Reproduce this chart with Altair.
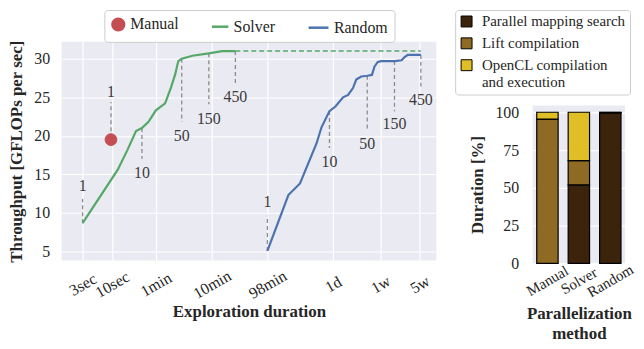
import altair as alt
import pandas as pd

FONT = "Liberation Serif"
TXT = "#262626"

# ---------------- left panel data ----------------
series_names = ["Manual", "Solver", "Random"]
series_colors = ["#C44E52", "#55A868", "#4C72B0"]
series_shapes = ["circle", "stroke", "stroke"]
series_sizes = [140, 400, 400]

solver_t = [3, 12.7, 19.0, 26.8, 34.2, 44.8, 60.5, 88.5, 111.6, 133, 152, 175, 270, 532, 916, 1581]
solver_v = [8.65, 15.6, 18.2, 20.6, 21.0, 21.8, 23.3, 24.2, 26.2, 27.9, 29.7, 30.0, 30.4, 30.7, 31.0, 31.0]

solver_ext_t = [1581, 3190000]
solver_ext_v = [31.0, 31.0]

random_t = [5880, 13900, 22400, 44100, 54100, 75000, 95800, 131000, 161000, 197000, 225000,
            276000, 353000, 428000, 477000, 546000, 625000, 1080000, 1450000, 1620000, 1860000, 3190000]
random_v = [5.04, 12.3, 13.8, 19.0, 21.1, 23.2, 23.8, 25.0, 25.3, 26.2, 27.3,
            27.7, 27.8, 27.9, 29.0, 29.6, 29.7, 29.7, 29.8, 30.2, 30.5, 30.5]

manual_t = [9.6]
manual_v = [19.5]

ann_t = [3, 34.2, 175, 532, 1581, 9.6, 5880, 75000, 353000, 1080000, 3190000]
ann_from = [8.65, 21.0, 30.0, 30.7, 31.0, 20.6, 5.04, 23.2, 27.8, 29.7, 30.5]
ann_to = [11.8, 17.0, 21.8, 24.1, 26.8, 24.4, 9.6, 18.4, 20.6, 23.2, 26.4]
ann_label_v = [13.5, 15.2, 19.9, 22.2, 25.0, 25.7, 11.35, 16.6, 18.9, 21.5, 24.6]
ann_text = ["1", "10", "50", "150", "450", "1", "1", "10", "50", "150", "450"]

tick_vals = [3, 10, 60, 600, 5880, 86400, 604800, 3024000]
tick_labels = ["3sec", "10sec", "1min", "10min", "98min", "1d", "1w", "5w"]
y_ticks = [5, 10, 15, 20, 25, 30]

# ---------------- right panel data ----------------
methods = ["Manual", "Solver", "Random"]
components = ["Parallel mapping search", "Lift compilation", "OpenCL compilation and execution"]
comp_colors = ["#3B240B", "#8F6A23", "#DFBF25"]
share_parallel = [0, 52, 99.6]
share_lift = [95.5, 16, 0.2]
share_opencl = [4.5, 32, 0.2]

# ---------------- tables ----------------
line_df = pd.DataFrame({
    "t": solver_t + random_t,
    "v": solver_v + random_v,
    "series": ["Solver"] * len(solver_t) + ["Random"] * len(random_t),
})
ext_df = pd.DataFrame({"t": solver_ext_t, "v": solver_ext_v})
legend_df = pd.DataFrame({"t": manual_t, "v": manual_v, "series": ["Manual"]})
rule_df = pd.DataFrame({"t": ann_t, "v": ann_from, "v2": ann_to})
text_df = pd.DataFrame({"t": ann_t, "v": ann_label_v, "label": ann_text})

rows = []
for i, m in enumerate(methods):
    for j, (c, s) in enumerate(zip(components, [share_parallel[i], share_lift[i], share_opencl[i]])):
        rows.append({"method": m, "component": c, "share": s, "ord": j})
bar_df = pd.DataFrame(rows)

label_expr = ("[" + ",".join(f"'{l}'" for l in tick_labels) + "][indexof(["
              + ",".join(str(v) for v in tick_vals) + "], datum.value)]")

xscale = alt.Scale(type="log", domain=[1.27, 6.0e6], nice=False)
yscale = alt.Scale(domain=[3.8, 32.2], nice=False, zero=False)

X = alt.X("t:Q", scale=xscale, title="Exploration duration",
          axis=alt.Axis(values=tick_vals, labelExpr=label_expr, labelAngle=-30,
                        labelAlign="center", labelBaseline="middle", labelPadding=24,
                        labelOverlap=False, titlePadding=2))
Y = alt.Y("v:Q", scale=yscale, title="Throughput [GFLOPs per sec]",
          axis=alt.Axis(values=y_ticks, labelPadding=12, titlePadding=8))

left_legend = alt.Legend(
    orient="none", legendX=43, legendY=-32, direction="horizontal", title=None,
    symbolStrokeWidth=2.5, symbolOpacity=1,
    labelFont=FONT, labelFontSize=16, labelColor=TXT, columnPadding=28, padding=6,
    fillColor="white", strokeColor="#cccccc", cornerRadius=3,
)

rules = alt.Chart(rule_df).mark_rule(strokeDash=[4, 3], color="#8c8c8c", strokeWidth=1.3).encode(
    x=X, y=Y, y2="v2:Q")
lines = alt.Chart(line_df).mark_line(strokeWidth=2.2).encode(
    x="t:Q", y="v:Q",
    color=alt.Color("series:N", scale=alt.Scale(domain=series_names, range=series_colors),
                    legend=None))
ext = alt.Chart(ext_df).mark_line(strokeDash=[5, 3], color="#55A868", strokeWidth=1.5).encode(
    x="t:Q", y="v:Q")
manual = alt.Chart(legend_df).mark_point(filled=True, opacity=1, strokeWidth=1).encode(
    x="t:Q", y="v:Q",
    fill=alt.Fill("series:O", scale=alt.Scale(domain=series_names, range=series_colors), legend=left_legend),
    stroke=alt.Stroke("series:O", scale=alt.Scale(domain=series_names, range=series_colors), legend=left_legend),
    shape=alt.Shape("series:O", scale=alt.Scale(domain=series_names, range=series_shapes), legend=left_legend),
    size=alt.Size("series:O", scale=alt.Scale(domain=series_names, range=series_sizes), legend=left_legend),
)
texts = alt.Chart(text_df).mark_text(font=FONT, fontSize=16, color="#3a3a3a", baseline="middle").encode(
    x="t:Q", y="v:Q", text="label:N")

left = alt.layer(rules, lines, ext, manual, texts).properties(width=377, height=220)

right_legend = alt.Legend(
    orient="none", legendX=-78, legendY=-32, title=None, symbolType="square", symbolSize=121,
    symbolStrokeColor="black", symbolStrokeWidth=1, labelFont=FONT, labelFontSize=15,
    labelColor=TXT, labelLimit=0, labelOffset=8, rowPadding=6, padding=4, fillColor="white",
    strokeColor="#cccccc", cornerRadius=3,
    labelExpr="datum.label == 'OpenCL compilation and execution' ? ['OpenCL compilation', 'and execution'] : datum.label",
)

bars = alt.Chart(bar_df).mark_bar(stroke="black", strokeWidth=1.2).encode(
    x=alt.X("method:N", sort=methods, title=["Parallelization", "method"],
            scale=alt.Scale(paddingInner=0.32, paddingOuter=0.13),
            axis=alt.Axis(labelAngle=-30, labelAlign="center", labelBaseline="middle",
                          labelFontSize=15, labelPadding=17, grid=False, titlePadding=6,
                          titleLineHeight=20)),
    y=alt.Y("share:Q", stack="zero", title="Duration [%]",
            scale=alt.Scale(domain=[0, 104.5], nice=False),
            axis=alt.Axis(values=[0, 25, 50, 75, 100], labelPadding=14, titlePadding=8)),
    color=alt.Color("component:N", scale=alt.Scale(domain=components, range=comp_colors),
                    legend=right_legend),
    order=alt.Order("ord:Q", sort="ascending"),
).properties(width=93, height=159)

spacer = alt.Chart(pd.DataFrame({"a": [0]})).mark_point(opacity=0).properties(
    width=93, height=61, view=alt.ViewBackground(fill="transparent", stroke="transparent"))

right = alt.vconcat(spacer, bars, spacing=0)

chart = alt.hconcat(left, right, spacing=18).resolve_scale(color="independent").properties(
    padding={"left": 0, "top": 0, "right": 0, "bottom": 0}
).configure_view(fill="#EAEAF2", stroke=None).configure_axis(
    grid=True, gridColor="white", gridWidth=1.2, domain=False, ticks=False,
    labelFont=FONT, labelFontSize=16, labelColor=TXT,
    titleFont=FONT, titleFontSize=17, titleFontWeight="bold", titleColor=TXT,
).configure_legend(labelFont=FONT)

chart.save("out.html", embed_options={"renderer": "svg", "actions": False})
